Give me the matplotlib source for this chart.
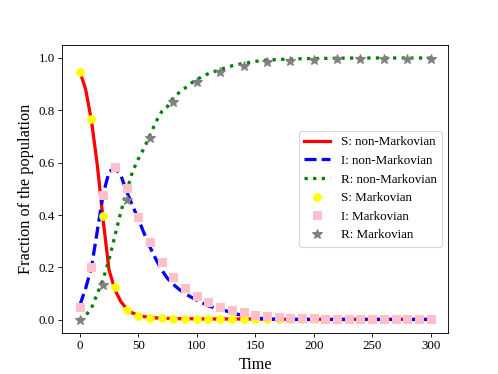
import matplotlib
matplotlib.use('Agg')
import matplotlib.pyplot as plt

plt.rcParams['font.family'] = ['Liberation Serif', 'DejaVu Serif']
plt.rcParams['mathtext.fontset'] = 'stix'

##############################################################################################################################
# data

# non-Markovian curves
t_line = [0, 5, 10, 15, 20, 25, 30, 35, 40, 45, 50, 55, 60, 65, 70, 75, 80, 85, 90, 95,
          100, 105, 110, 115, 120, 125, 130, 135, 140, 145, 150,
          160, 180, 200, 220, 240, 260, 280, 300]
S_line = [0.95, 0.88, 0.76, 0.59, 0.38, 0.19, 0.115, 0.07, 0.042, 0.026, 0.017, 0.012, 0.009, 0.007, 0.006, 0.005, 0.005, 0.004, 0.004, 0.004,
          0.003, 0.003, 0.003, 0.003, 0.003, 0.003, 0.003, 0.003, 0.003, 0.003, 0.003,
          0.002, 0.002, 0.002, 0.002, 0.002, 0.002, 0.002, 0.002]
I_line = [0.055, 0.12, 0.20, 0.34, 0.48, 0.565, 0.58, 0.553, 0.49, 0.437, 0.385, 0.33, 0.278, 0.232, 0.19, 0.158, 0.135, 0.116, 0.1, 0.087,
          0.075, 0.064, 0.053, 0.046, 0.041, 0.034, 0.027, 0.021, 0.016, 0.011, 0.007,
          0.003, 0.001, 0.001, 0.001, 0.001, 0.001, 0.001, 0.001]
R_line = [0.0, 0.015, 0.045, 0.1, 0.155, 0.23, 0.32, 0.41, 0.49, 0.565, 0.614, 0.656, 0.705, 0.755, 0.795, 0.815, 0.848, 0.868, 0.885, 0.903,
          0.917, 0.93, 0.94, 0.948, 0.956, 0.963, 0.97, 0.975, 0.979, 0.983, 0.987,
          0.992, 0.996, 0.998, 0.999, 1.0, 1.0, 1.0, 1.0]

# Markovian simulation points
t_SI = list(range(0, 301, 10))
S_mark = [0.947, 0.768, 0.396, 0.127, 0.038, 0.016, 0.008, 0.005, 0.004, 0.003, 0.003,
          0.003, 0.003, 0.003, 0.003, 0.003, 0.003, 0.003, 0.003, 0.003, 0.003,
          0.003, 0.003, 0.003, 0.003, 0.003, 0.003, 0.003, 0.003, 0.003, 0.003]
I_mark = [0.05, 0.20, 0.477, 0.585, 0.504, 0.392, 0.296, 0.22, 0.165, 0.123, 0.091,
          0.067, 0.05, 0.038, 0.028, 0.019, 0.014, 0.011, 0.008, 0.006, 0.005,
          0.004, 0.003, 0.003, 0.003, 0.003, 0.003, 0.003, 0.003, 0.003, 0.003]
t_R = list(range(0, 301, 20))
R_mark = [0.0, 0.133, 0.458, 0.696, 0.833, 0.908, 0.947, 0.971, 0.984, 0.99, 0.994,
          0.995, 0.996, 0.997, 0.997, 0.997]

##############################################################################################################################
# plot

fig, ax = plt.subplots(figsize=(498 / 78, 374 / 78), dpi=78)

ax.plot(t_line, S_line, '-', color='red', lw=3, label='S: non-Markovian')
ax.plot(t_line, I_line, '--', color='blue', lw=3, label='I: non-Markovian')
ax.plot(t_line, R_line, ':', color='green', lw=3, label='R: non-Markovian')
ax.plot(t_SI, S_mark, 'o', color='yellow', ms=7, label='S: Markovian')
ax.plot(t_SI, I_mark, 's', color='pink', ms=7, label='I: Markovian')
ax.plot(t_R, R_mark, '*', color='gray', ms=10, label='R: Markovian')

ax.set_xlabel('Time', fontsize=15)
ax.set_ylabel('Fraction of the population', fontsize=15)
ax.tick_params(labelsize=12)

ax.legend(loc='center right', fontsize=12)

plt.savefig('out.png', dpi=78)
